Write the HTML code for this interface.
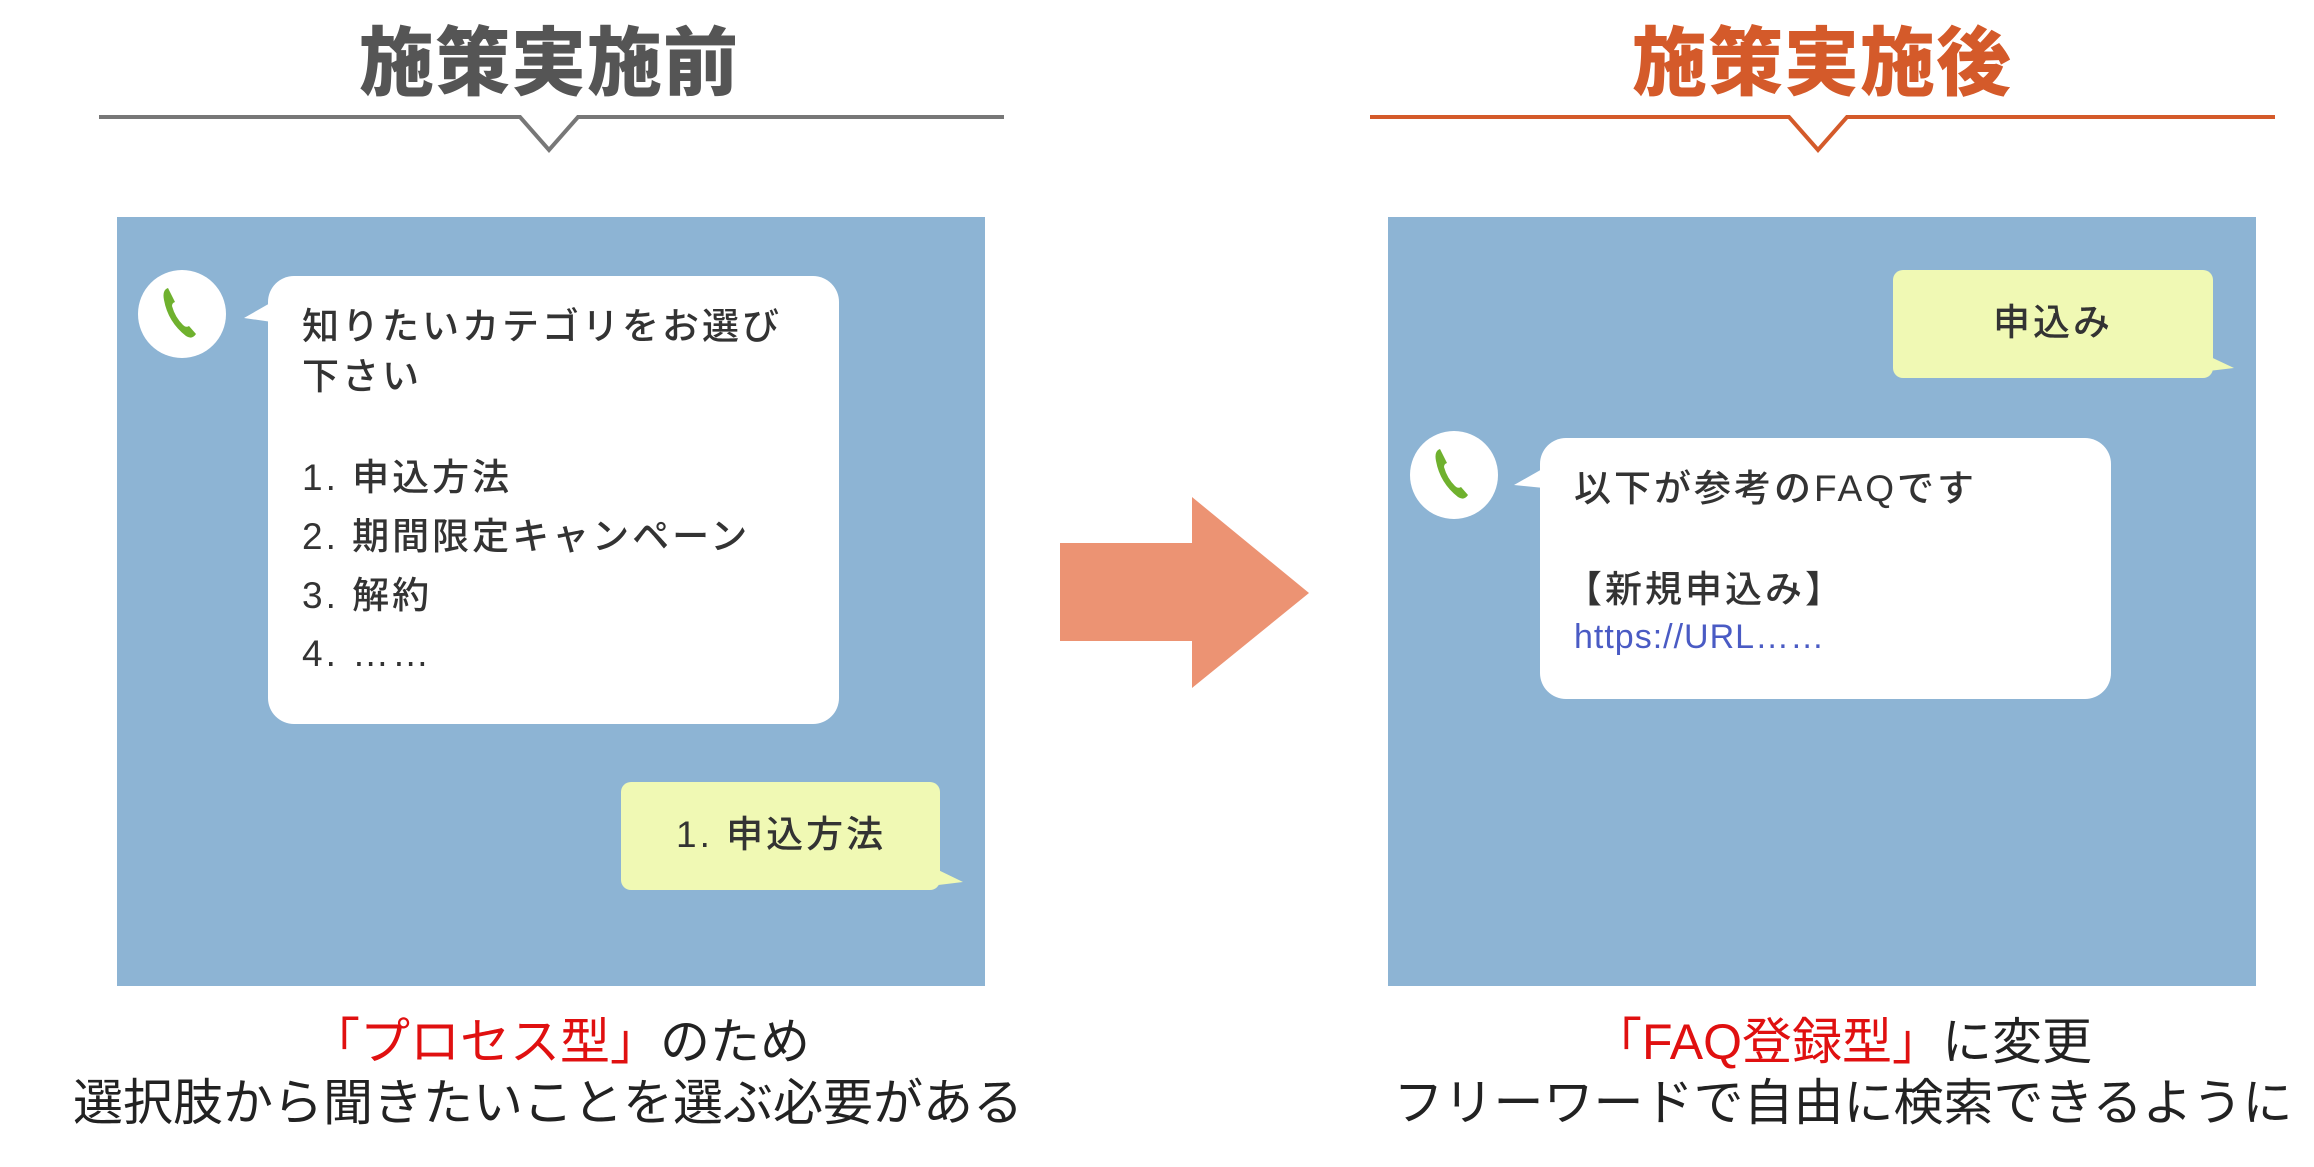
<!DOCTYPE html>
<html><head><meta charset="utf-8"><style>
body{margin:0;width:2314px;height:1167px;background:#fff;position:relative;overflow:hidden;font-family:"Liberation Sans","Noto Sans CJK JP",sans-serif;}
.a{position:absolute;white-space:nowrap;}
.title{font-size:75px;font-weight:900;transform:translateX(-50%);top:2px;letter-spacing:1px}
.box{position:absolute;background:#8db4d4}
.wb{position:absolute;background:#fff;border-radius:26px}
.yb{position:absolute;background:#f0f9b4;border-radius:10px}
.t{position:absolute;white-space:nowrap;font-size:37px;color:#333;letter-spacing:3px;line-height:1;font-weight:500}
.cap{position:absolute;white-space:nowrap;font-size:50px;color:#222;transform:translateX(-50%);line-height:1}
.r{color:#e01010}
</style></head><body>
<div class="a title" style="left:549px;color:#555">施策実施前</div>
<div class="a title" style="left:1822px;color:#d45a2a">施策実施後</div>
<svg class="a" style="left:0;top:0" width="2314" height="1167">
<polyline points="99,117 520,117 549,150 578,117 1004,117" fill="none" stroke="#777" stroke-width="4"/>
<polyline points="1370,117 1789,117 1818,150 1847,117 2275,117" fill="none" stroke="#d45a2a" stroke-width="4"/>
<polygon points="1060,543 1192,543 1192,497 1309,593 1192,688 1192,641 1060,641" fill="#ec9373"/>
</svg>
<div class="box" style="left:117px;top:217px;width:868px;height:769px"></div>
<div class="box" style="left:1388px;top:217px;width:868px;height:769px"></div>
<svg class="a" style="left:0;top:0" width="2314" height="1167">
<circle cx="182" cy="314" r="44" fill="#fff"/>
<path d="M168,288 q-6,2 -4,12 q4,22 22,36 q6,4 10,-2 l-7,-8 q-3,2 -6,-1 q-8,-8 -11,-19 q0,-3 3,-4 z" fill="#6fb12e"/>
<circle cx="1454" cy="475" r="44" fill="#fff"/>
<path d="M1440,449 q-6,2 -4,12 q4,22 22,36 q6,4 10,-2 l-7,-8 q-3,2 -6,-1 q-8,-8 -11,-19 q0,-3 3,-4 z" fill="#6fb12e"/>
<polygon points="244,318 272,302 272,322" fill="#fff"/>
<polygon points="1514,485 1544,468 1544,488" fill="#fff"/>
<polygon points="930,866 963,882 930,886" fill="#f0f9b4"/>
<polygon points="2200,352 2234,368 2200,372" fill="#f0f9b4"/>
</svg>
<div class="wb" style="left:268px;top:276px;width:571px;height:448px"></div>
<div class="t" style="left:302px;top:308px">知りたいカテゴリをお選び</div>
<div class="t" style="left:302px;top:358px">下さい</div>
<div class="t" style="left:302px;top:459px">1. 申込方法</div>
<div class="t" style="left:302px;top:518px">2. 期間限定キャンペーン</div>
<div class="t" style="left:302px;top:577px">3. 解約</div>
<div class="t" style="left:302px;top:635px">4. ……</div>
<div class="yb" style="left:621px;top:782px;width:319px;height:108px"></div>
<div class="t" style="left:676px;top:816px">1. 申込方法</div>
<div class="yb" style="left:1893px;top:270px;width:320px;height:108px"></div>
<div class="t" style="left:1993px;top:304px">申込み</div>
<div class="wb" style="left:1540px;top:438px;width:571px;height:261px"></div>
<div class="t" style="left:1574px;top:470px">以下が参考のFAQです</div>
<div class="t" style="left:1565px;top:571px">【新規申込み】</div>
<div class="t" style="left:1574px;top:620px;color:#4a5bc4;font-size:34px;letter-spacing:1px">https://URL……</div>
<div class="cap" style="left:560px;top:1017px"><span class="r">「プロセス型」</span>のため</div>
<div class="cap" style="left:548px;top:1078px">選択肢から聞きたいことを選ぶ必要がある</div>
<div class="cap" style="left:1842px;top:1017px"><span class="r">「FAQ登録型」</span>に変更</div>
<div class="cap" style="left:1843px;top:1078px">フリーワードで自由に検索できるように</div>
</body></html>
